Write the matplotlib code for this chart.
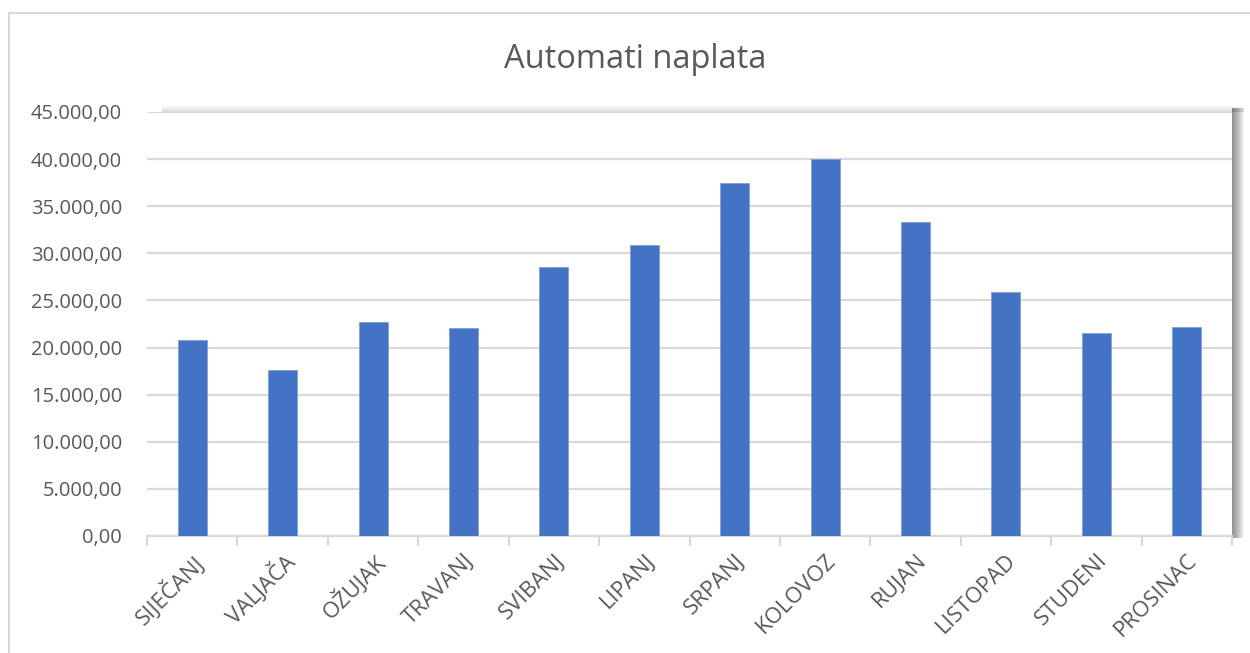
import matplotlib.pyplot as plt
from matplotlib.patches import Rectangle
from matplotlib.ticker import FuncFormatter, MultipleLocator

months = ["SIJEČANJ", "VALJAČA", "OŽUJAK", "TRAVANJ", "SVIBANJ", "LIPANJ",
          "SRPANJ", "KOLOVOZ", "RUJAN", "LISTOPAD", "STUDENI", "PROSINAC"]
values = [20800, 17600, 22700, 22100, 28550, 30880,
          37450, 39980, 33300, 25900, 21500, 22200]

plt.rcParams['font.family'] = ['Open Sans', 'DejaVu Sans']
text_col = "#595959"


def hr_fmt(v, pos):
    s = "{:,.2f}".format(v)
    return s.replace(",", "X").replace(".", ",").replace("X", ".")


fig = plt.figure(figsize=(12.5, 6.53), dpi=100)
W, H = 1250, 653

# outer chart frame
fig.patches.append(Rectangle((9 / W, -0.1), 1.2, (H - 13) / H + 0.1,
                             transform=fig.transFigure, fill=False,
                             edgecolor="#d9d9d9", linewidth=1.5))

left, right, top, bottom = 147, 1232, 112, 536
ax = fig.add_axes([left / W, 1 - bottom / H, (right - left) / W, (bottom - top) / H])

# soft shadow of the plot area: dark strip on the right, faint band on top
for k in range(12):
    fig.patches.append(Rectangle((right / W, (H - bottom - 2) / H),
                                 (12 - k) / W, (bottom - top + 6) / H,
                                 transform=fig.transFigure, facecolor="black",
                                 alpha=0.045, edgecolor="none", zorder=0))
for k in range(6):
    fig.patches.append(Rectangle(((left + 15) / W, (H - top) / H),
                                 (right - left - 15 + 12) / W, (6 - k) / H,
                                 transform=fig.transFigure, facecolor="black",
                                 alpha=0.025, edgecolor="none", zorder=0))
ax.set_zorder(2)
ax.set_facecolor("white")

x = range(len(months))
ax.bar(x, values, width=0.32, color="#4472c4", edgecolor="#7f9fd8", linewidth=0.6, zorder=3)

ax.set_ylim(0, 45000)
ax.set_xlim(-0.5, len(months) - 0.5)
ax.yaxis.set_major_locator(MultipleLocator(5000))
ax.yaxis.set_major_formatter(FuncFormatter(hr_fmt))
ax.grid(axis="y", color="#d9d9d9", linewidth=1.6, zorder=0)

for s in ["top", "right", "left"]:
    ax.spines[s].set_visible(False)
ax.spines["bottom"].set_color("#d9d9d9")
ax.spines["bottom"].set_linewidth(1.6)

ax.tick_params(axis="y", length=0, pad=18, labelsize=14.5, labelcolor=text_col)
ax.set_xticks(list(x))
ax.set_xticklabels(months, rotation=45, ha="right", rotation_mode="anchor",
                   fontsize=16, color=text_col)
ax.tick_params(axis="x", length=0, pad=10)
ax.set_xticks([i - 0.5 for i in range(len(months) + 1)], minor=True)
ax.tick_params(axis="x", which="minor", length=7, width=1.6, color="#d9d9d9")

fig.text(635 / W, 1 - 60 / H, "Automati naplata", ha="center", va="center",
         fontsize=23.5, color=text_col)

fig.savefig("out.png", dpi=100, facecolor="white")
